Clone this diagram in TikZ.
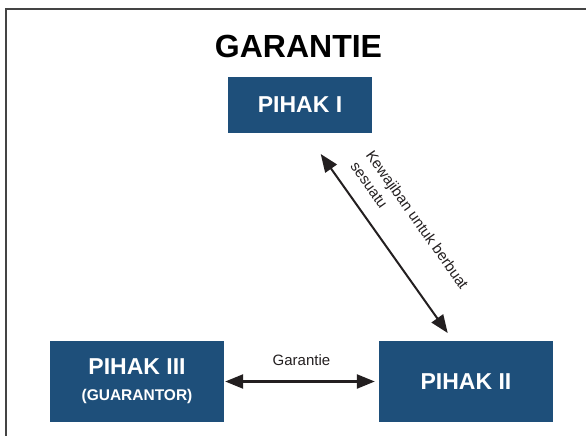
\documentclass[tikz,border=0pt]{standalone}
\usepackage{fontspec}
\setmainfont{Liberation Sans}
\usetikzlibrary{arrows.meta,positioning}
\definecolor{boxblue}{RGB}{30,79,122}
\definecolor{ink}{RGB}{35,31,32}
\definecolor{framegray}{RGB}{68,68,68}

\begin{document}
\begin{tikzpicture}[
  x=1pt,y=-1pt,
  box/.style={fill=boxblue,text=white,inner sep=0pt,align=center,
    font=\bfseries\fontsize{23}{26}\selectfont},
  arc/.style={{Triangle[length=18pt,width=14pt]}-{Triangle[length=18pt,width=14pt]},
    line width=2.4pt,draw=ink},
  lbl/.style={text=ink,font=\fontsize{15}{19}\selectfont}
]
  \useasboundingbox (0,0) rectangle (586,436);
  \draw[framegray,line width=2pt] (6,436) -- (6,9.5) -- (586,9.5);
  \node[anchor=base,font=\bfseries\fontsize{32}{36}\selectfont] (title) at (298.5,58) {GARANTIE};
  \node[box,minimum width=144pt,minimum height=56pt] (p1) at (300,105) {PIHAK I};
  \node[box,minimum width=174pt,minimum height=81pt] (p3) at (137,381.5)
    {PIHAK III\\[0pt]{\fontsize{15.5}{18}\selectfont (GUARANTOR)}};
  \node[box,minimum width=174pt,minimum height=81pt] (p2) at (466,381.5) {PIHAK II};
  \coordinate (d1) at (320.7,154);
  \coordinate (d2) at (447.7,333);
  \draw[arc,line width=2pt] (d1) -- node[lbl,sloped,above=12pt,align=left] (kw)
    {Kewajiban untuk berbuat\\sesuatu} (d2);
  \draw[arc,shorten <=1pt,shorten >=4pt] (p3) -- node[lbl,above=11pt] (gl) {Garantie} (p2);
\end{tikzpicture}
\end{document}
